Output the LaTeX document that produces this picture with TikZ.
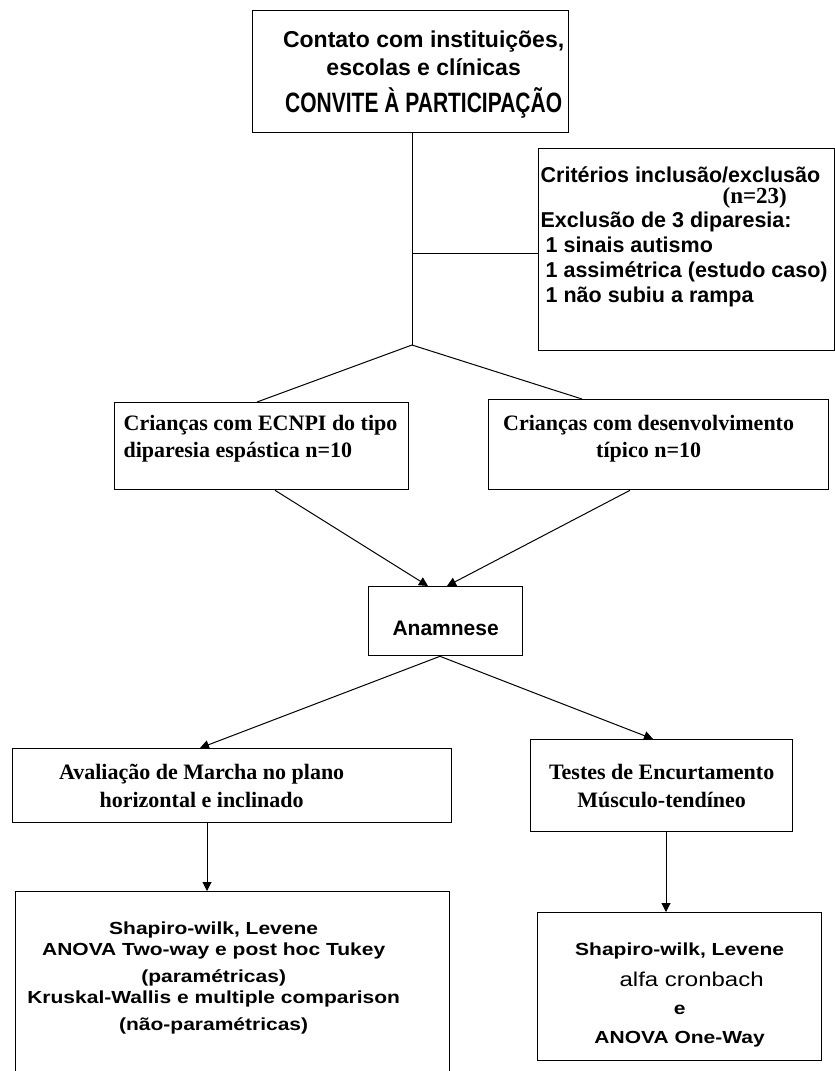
\documentclass[tikz,border=0pt]{standalone}
\usepackage{fontspec}
\usepackage{graphicx}
\usetikzlibrary{arrows.meta,calc}
\newfontfamily\arialf{Liberation Sans}
\newfontfamily\timesf{Liberation Serif}
\newfontfamily\convitef[FakeStretch=0.75]{Liberation Sans}
\newfontfamily\widef[FakeStretch=1.2]{Liberation Sans}
% #1 box width, #2 box height, #3 top gap, #4 left pad, #5 text width, #6 text
\newcommand{\mybx}[6]{\parbox[c][#2][t]{#1}{\vspace*{#3}\hspace*{#4}\parbox[t]{#5}{#6}}}
\begin{document}
\begin{tikzpicture}[x=1pt,y=-1pt,
  box/.style={draw, line width=1.3pt, inner sep=0pt, anchor=north west},
  conn/.style={line width=1pt},
  arr/.style={line width=1pt, -{Triangle[length=9pt,width=9pt]}}]
\useasboundingbox (0,0) rectangle (835,1071);
\clip (0,0) rectangle (835,1071);
\fill[white] (0,0) rectangle (835,1071);

\node[box] (top) at (252,10) {\mybx{316pt}{122pt}{14pt}{26pt}{290pt}{\centering\arialf\bfseries\fontsize{23}{28}\selectfont\rule{0pt}{23pt}Contato com instituições,\\escolas e clínicas\\[9pt]{\convitef\bfseries\fontsize{28}{28}\selectfont CONVITE À PARTICIPAÇÃO}}};

\node[box] (crit) at (538,148) {\mybx{296pt}{202pt}{13pt}{2pt}{292pt}{\raggedright\arialf\bfseries\fontsize{21.5}{24}\selectfont\rule{0pt}{21pt}Critérios inclusão/exclusão\\[-3pt]\hspace*{182pt}{\timesf\bfseries\fontsize{23}{24}\selectfont(n=23)}\\Exclusão de 3 diparesia:\\[1pt]\hspace*{5pt}1 sinais autismo\\[1pt]\hspace*{5pt}1 assimétrica (estudo caso)\\[1pt]\hspace*{5pt}1 não subiu a rampa}};

\node[box] (cl) at (114,402) {\mybx{294pt}{87pt}{6pt}{9pt}{283pt}{\raggedright\timesf\bfseries\fontsize{22}{27}\selectfont\rule{0pt}{22pt}Crianças com ECNPI do tipo\\diparesia espástica n=10}};

\node[box] (cr) at (488,399) {\mybx{340pt}{90pt}{9pt}{9pt}{302pt}{\centering\timesf\bfseries\fontsize{22}{27}\selectfont\rule{0pt}{22pt}Crianças com desenvolvimento\\típico n=10}};

\node[box] (an) at (368,586) {\mybx{154pt}{69pt}{28pt}{2pt}{150pt}{\centering\arialf\bfseries\fontsize{21}{24}\selectfont\rule{0pt}{21pt}Anamnese}};

\node[box] (av) at (12,748) {\mybx{439pt}{74pt}{9pt}{24pt}{330pt}{\centering\timesf\bfseries\fontsize{22}{28}\selectfont\rule{0pt}{22pt}Avaliação de Marcha no plano\\horizontal e inclinado}};

\node[box] (te) at (530,739) {\mybx{262pt}{92pt}{18pt}{3pt}{256pt}{\centering\timesf\bfseries\fontsize{22}{28}\selectfont\rule{0pt}{22pt}Testes de Encurtamento\\Músculo-tendíneo}};

\node[box] (sl) at (15,891) {\mybx{434pt}{189pt}{26pt}{-2pt}{400pt}{\centering\widef\bfseries\fontsize{17.5}{21}\selectfont\rule{0pt}{17pt}Shapiro-wilk, Levene\\ANOVA Two-way e post hoc Tukey\\[6pt](paramétricas)\\Kruskal-Wallis e multiple comparison\\[6pt](não-paramétricas)}};

\node[box] (sr) at (537,912) {\mybx{284pt}{148pt}{26pt}{2pt}{280pt}{\centering\widef\bfseries\fontsize{17.5}{29}\selectfont\rule{0pt}{17pt}Shapiro-wilk, Levene\\[2pt]{\mdseries\fontsize{20}{29}\selectfont\hspace*{24pt}alfa cronbach}\\[-1pt]e\\ANOVA One-Way}};

\coordinate (br) at (412,345);
\coordinate (hb) at (412,253);
\draw[conn] (top.south -| br) -- (br);
\draw[conn] (hb) -- (hb -| crit.west);
\draw[conn] (br) -- ([xshift=143pt]cl.north west);
\draw[conn] (br) -- ([xshift=94pt]cr.north west);
\draw[arr] ([xshift=161pt]cl.south west) -- ([xshift=60pt]an.north west);
\draw[arr] ([xshift=142pt]cr.south west) -- ([xshift=79pt]an.north west);
\draw[arr] ([xshift=72pt]an.south west) -- ([xshift=188pt]av.north west);
\draw[arr] ([xshift=72pt]an.south west) -- ([xshift=123pt]te.north west);
\draw[arr] ([xshift=195pt]av.south west) -- ([xshift=192pt]sl.north west);
\draw[arr] ([xshift=136pt]te.south west) -- ([xshift=129pt]sr.north west);
\end{tikzpicture}
\end{document}
